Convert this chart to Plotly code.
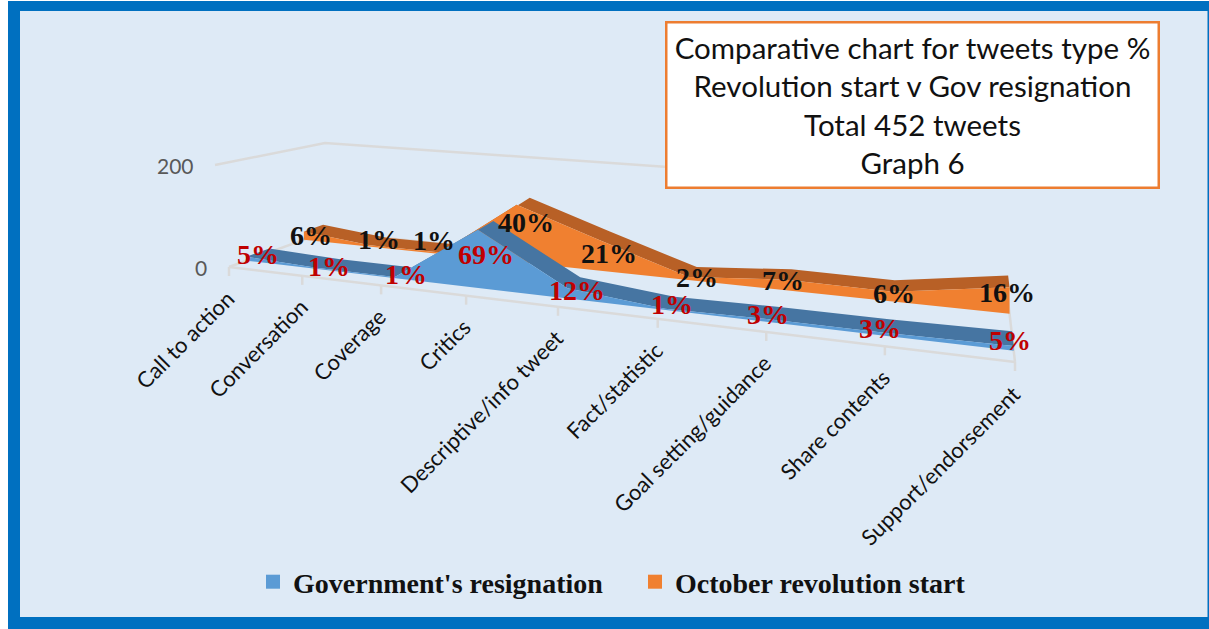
import plotly.graph_objects as go

categories = ["Call to action", "Conversation", "Coverage", "Critics",
              "Descriptive/info tweet", "Fact/statistic", "Goal setting/guidance",
              "Share contents", "Support/endorsement"]
gov_values = [8, 2, 2, 110, 19, 2, 5, 5, 8]
oct_values = [18, 3, 3, 117, 61, 6, 20, 18, 47]
gov_labels = ["5%", "1%", "1%", "69%", "12%", "1%", "3%", "3%", "5%"]
oct_labels = ["6%", "1%", "1%", "40%", "21%", "2%", "7%", "6%", "16%"]
value_ticks = [0, 200]
title_lines = ["Comparative chart for tweets type %", "Revolution start v Gov resignation",
               "Total 452 tweets", "Graph 6"]

# ---- 3-D style projection: (category index, depth 0..1, value) -> page position
W, H = 1209, 629
FL, FR, BL, BR = (229, 267), (1015, 362), (325, 232), (1008, 300)
K = 1.389
N = len(categories) - 1


def warp(i):
    t = i / N
    return t / (t + K * (1 - t)) if t > 0 else 0.0


def project(i, d, v=0.0, tilt=0.0):
    u = warp(i)
    fx, fy = FL[0] + (FR[0] - FL[0]) * u, FL[1] + (FR[1] - FL[1]) * u
    bx, by = BL[0] + (BR[0] - BL[0]) * u, BL[1] + (BR[1] - BL[1]) * u
    x, y = fx + (bx - fx) * d, fy + (by - fy) * d
    s = 0.51 + 0.10 * u - 0.065 * d
    return x - tilt * v * (1 - d) * (1 - u), y - s * v


GOV_D = (0.18, 0.42)
OCT_D = (0.78, 0.98)
COL = dict(gov="#5B9BD5", gov_top="#4675A2", oct="#F08030", oct_top="#B86026",
           grid="#DADADA", frame="#0070C0", bg="#DEEAF6")

fig = go.Figure()


def poly(pts, color):
    fig.add_trace(go.Scatter(x=[p[0] for p in pts], y=[p[1] for p in pts], mode="lines",
                             fill="toself", fillcolor=color, line=dict(width=0),
                             hoverinfo="skip", showlegend=False))


def line(pts):
    fig.add_trace(go.Scatter(x=[p[0] for p in pts], y=[p[1] for p in pts], mode="lines",
                             line=dict(color=COL["grid"], width=2.5),
                             hoverinfo="skip", showlegend=False))


idx = list(range(len(categories)))
# walls and floor
line([project(0, 0, 200, 0.07), project(0, 1, 200), project(6, 1, 200)])
line([project(0, 0), project(0, 1), project(N, 1), project(N, 0)])
line([project(0, 0), project(N, 0)])
for i in idx:
    a = project(i, 0)
    line([a, (a[0], a[1] + 9)])


def ribbon(values, depth, top, front):
    d0, d1 = depth
    fr = [project(i, d0, values[i]) for i in idx]
    bk = [project(i, d1, values[i]) for i in idx]
    poly(fr + bk[::-1], top)
    poly(fr + [project(i, d0) for i in idx[::-1]], front)


ribbon(oct_values, OCT_D, COL["oct_top"], COL["oct"])
ribbon(gov_values, GOV_D, COL["gov_top"], COL["gov"])

# legend entries
fig.add_trace(go.Scatter(x=[None], y=[None], mode="markers", name="Government's resignation",
                         marker=dict(symbol="square", size=14, color=COL["gov"])))
fig.add_trace(go.Scatter(x=[None], y=[None], mode="markers", name="October revolution start",
                         marker=dict(symbol="square", size=14, color=COL["oct"])))

ann = []
# data labels: anchored on each point, nudged (px right, px down)
gov_nudge = [(12, -2), (11, -2), (11, -3), (8, 25), (9, 2), (7, -4), (-3, -5), (-7, -5), (-4, -6)]
oct_nudge = [(7, 4), (9, -6), (-6, -12), (9, 18), (10, 13), (8, 1), (-3, 1), (1, 2), (-3, 5)]
for vals, labs, nudge, d, col in [(oct_values, oct_labels, oct_nudge, OCT_D[0], "#111111"),
                                  (gov_values, gov_labels, gov_nudge, GOV_D[0], "#C00000")]:
    for i in idx:
        x, y = project(i, d, vals[i])
        ann.append(dict(x=x, y=y, xref="x", yref="y", text=labs[i], showarrow=False,
                        xshift=nudge[i][0], yshift=-nudge[i][1],
                        font=dict(family="Liberation Serif", size=28, color=col, weight="bold")))
# category labels
for i in idx:
    x, y = project(i, 0)
    ann.append(dict(x=x + 13, y=y + 15, xref="x", yref="y", text=categories[i], showarrow=False,
                    textangle=-45, xanchor="right", yanchor="top",
                    font=dict(family="Lato", size=22, color="#111111")))
# value axis labels
for v in value_ticks:
    x, y = project(0, 0, v, 0.07)
    ann.append(dict(x=x - 20 if v == 0 else x - 19, y=y, xref="x", yref="y", text=str(v), showarrow=False,
                    xanchor="right", font=dict(family="Lato", size=21, color="#595959")))
# title box
ann.append(dict(x=912 / W, y=1 - 105.5 / H, xref="paper", yref="paper", text="<br>".join(title_lines),
                xanchor="center", yanchor="middle",
                showarrow=False, width=488, height=161, align="center", valign="middle",
                bgcolor="white", bordercolor="#ED7D31", borderwidth=2.5,
                font=dict(family="Lato", size=29.5, color="#111111")))

fig.update_layout(
    width=W, height=H, margin=dict(l=0, r=0, t=0, b=0),
    paper_bgcolor="white", plot_bgcolor="rgba(0,0,0,0)",
    xaxis=dict(range=[0, W], visible=False, fixedrange=True),
    yaxis=dict(range=[H, 0], visible=False, fixedrange=True),
    annotations=ann,
    shapes=[
        dict(type="rect", xref="paper", yref="paper", layer="below",
             x0=8 / W, x1=1, y0=0, y1=1 - 1 / H, fillcolor=COL["frame"], line=dict(width=0)),
        dict(type="rect", xref="paper", yref="paper", layer="below",
             x0=20 / W, x1=1207.5 / W, y0=1 - 617 / H, y1=1 - 11 / H, fillcolor=COL["bg"], line=dict(width=0)),
    ],
    legend=dict(orientation="h", x=253 / W, y=1 - 582 / H, xanchor="left", yanchor="middle",
                entrywidth=337, entrywidthmode="pixels",
                bgcolor="rgba(0,0,0,0)", traceorder="normal", itemclick=False, itemdoubleclick=False,
                font=dict(family="Liberation Serif", size=28, color="#111111", weight="bold")),
    showlegend=True,
)
fig.write_html("out.html", config=dict(displayModeBar=False),
               post_script="document.body.style.margin='0';document.body.style.overflow='hidden';")
